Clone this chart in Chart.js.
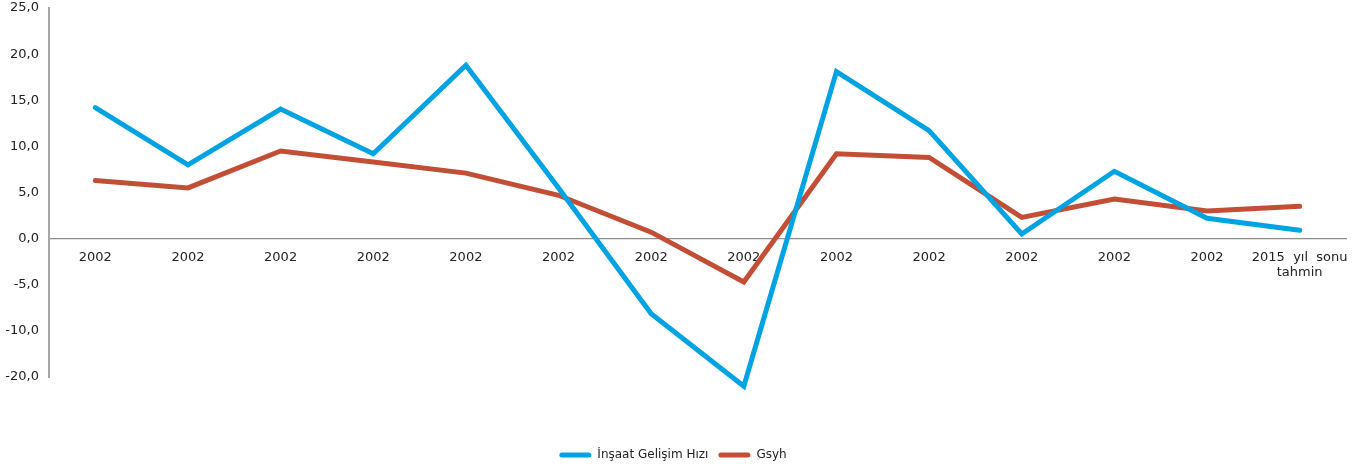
<!DOCTYPE html>
<html>
<head>
<meta charset="utf-8">
<script src="https://cdn.jsdelivr.net/npm/chart.js@4"></script>
<style>
  html, body { margin: 0; padding: 0; background: #fff; }
  #wrap { width: 1367px; height: 471px; }
</style>
</head>
<body>
<div id="wrap"><canvas id="c"></canvas></div>
<script>
const categories = ['2002','2002','2002','2002','2002','2002','2002','2002','2002','2002','2002','2002','2002',['2015  yıl  sonu','tahmin']];
const insaat = [14.2, 8.0, 14.05, 9.2, 18.8, 5.5, -8.15, -16.0, 18.1, 11.7, 0.5, 7.3, 2.2, 0.9];
const gsyh = [6.3, 5.5, 9.5, 8.3, 7.1, 4.7, 0.7, -4.7, 9.2, 8.8, 2.3, 4.3, 3.0, 3.5];
const yTicks = [25, 20, 15, 10, 5, 0, -5, -10, -15];
const yTickLabels = ['25,0','20,0','15,0','10,0','5,0','0,0','-5,0','-10,0','-20,0'];
const seriesNames = ['İnşaat Gelişim Hızı', 'Gsyh'];
const colors = ['#00A3E2', '#C24F35'];

const FONT = 'DejaVu Sans';

new Chart(document.getElementById('c'), {
  type: 'line',
  data: {
    labels: categories,
    datasets: [
      { label: seriesNames[0], data: insaat, borderColor: colors[0], backgroundColor: colors[0],
        borderWidth: 5, pointRadius: 0, tension: 0, clip: false, borderCapStyle: 'round', borderJoinStyle: 'miter' },
      { label: seriesNames[1], data: gsyh, borderColor: colors[1], backgroundColor: colors[1],
        borderWidth: 5, pointRadius: 0, tension: 0, clip: false, borderCapStyle: 'round', borderJoinStyle: 'miter' }
    ]
  },
  options: {
    responsive: true,
    maintainAspectRatio: false,
    animation: false,
    layout: { padding: { top: 0, right: 21, bottom: 0, left: 0 } },
    plugins: {
      tooltip: { enabled: false },
      legend: {
        position: 'bottom',
        labels: {
          font: { family: FONT, size: 12 },
          color: '#222',
          boxWidth: 32,
          boxHeight: 5,
          useBorderRadius: true,
          borderRadius: 2.5,
          padding: 10,
          generateLabels: (chart) => Chart.defaults.plugins.legend.labels.generateLabels(chart).map(l => Object.assign(l, { lineWidth: 0, strokeStyle: 'rgba(0,0,0,0)' }))
        }
      }
    },
    scales: {
      x: {
        type: 'category',
        position: { y: 0 },
        offset: true,
        grid: { display: false, drawTicks: false },
        border: { display: true, color: '#8c8c8c', width: 1.2 },
        ticks: { font: { family: FONT, size: 13 }, color: '#222', padding: 11, maxRotation: 0, autoSkip: false }
      },
      xpad: {
        type: 'category',
        position: 'bottom',
        display: true,
        grid: { display: false, drawTicks: false },
        border: { display: false },
        ticks: { display: false },
        afterFit: s => { s.height = 62; }
      },
      y: {
        min: -15,
        max: 25,
        afterBuildTicks: s => { s.ticks = yTicks.map(v => ({ value: v })); },
        afterFit: s => { s.width = 49; s.paddingTop = 8; s.paddingBottom = 0; },
        grid: { display: false, drawTicks: false },
        border: { display: true, color: '#a6a6a6', width: 2 },
        ticks: {
          font: { family: FONT, size: 13 },
          color: '#222',
          padding: 10,
          callback: (v) => { const i = yTicks.indexOf(v); return i >= 0 ? yTickLabels[i] : ''; }
        }
      }
    }
  }
});
</script>
</body>
</html>
